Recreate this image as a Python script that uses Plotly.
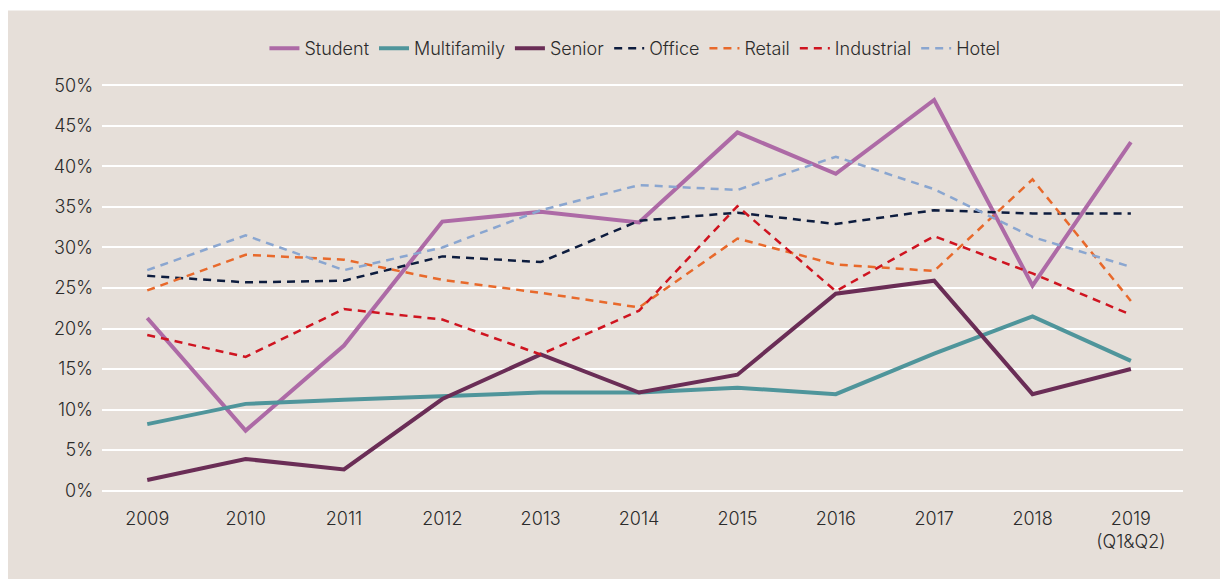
import plotly.graph_objects as go

years = ["2009", "2010", "2011", "2012", "2013", "2014", "2015", "2016", "2017", "2018", "2019<br>(Q1&Q2)"]

student = [21.3, 7.4, 17.9, 33.2, 34.4, 33.1, 44.2, 39.1, 48.2, 25.3, 43.0]
multifamily = [8.2, 10.7, 11.2, 11.6, 12.1, 12.1, 12.7, 11.9, 16.9, 21.5, 16.0]
senior = [1.3, 3.9, 2.6, 11.3, 16.8, 12.1, 14.3, 24.3, 25.9, 11.9, 15.0]
office = [26.5, 25.7, 25.9, 28.9, 28.2, 33.3, 34.3, 32.9, 34.6, 34.2, 34.2]
retail = [24.7, 29.1, 28.5, 26.0, 24.4, 22.6, 31.1, 27.9, 27.1, 38.4, 23.4]
industrial = [19.2, 16.5, 22.4, 21.1, 16.8, 22.2, 35.1, 24.6, 31.4, 26.8, 21.7]
hotel = [27.2, 31.5, 27.2, 30.0, 34.6, 37.7, 37.1, 41.2, 37.2, 31.3, 27.6]

tick_vals = [0, 5, 10, 15, 20, 25, 30, 35, 40, 45, 50]
tick_text = [f"{v}%" for v in tick_vals]

series = [
    ("Student", student, "#ad6aa6", "solid", 4),
    ("Multifamily", multifamily, "#4f959b", "solid", 4),
    ("Senior", senior, "#6a2d56", "solid", 4),
    ("Office", office, "#0d1c3e", "8px,6px", 2.5),
    ("Retail", retail, "#e8692b", "8px,6px", 2.5),
    ("Industrial", industrial, "#cf1420", "8px,6px", 2.5),
    ("Hotel", hotel, "#8aa6d0", "8px,6px", 2.5),
]

fig = go.Figure()
for name, vals, color, dash, w in series:
    fig.add_trace(go.Scatter(
        x=years, y=vals, name=name, mode="lines",
        line=dict(color=color, width=w, dash=dash),
    ))

bg = "#e6dfd9"
fig.add_shape(type="rect", xref="paper", yref="paper",
              x0=-0.087, x1=1.06, y0=-0.3, y1=1.177,
              fillcolor=bg, line=dict(width=0), layer="below")

font_family = "Inter, Lato, sans-serif"
label_font = dict(family=font_family, size=18, color="#2b2b2b", weight=300)
fig.update_layout(
    width=1228, height=579,
    margin=dict(l=94, r=53, t=75, b=94),
    paper_bgcolor="white",
    plot_bgcolor="rgba(0,0,0,0)",
    font=dict(family=font_family, size=18, color="#2b2b2b"),
    showlegend=True,
    legend=dict(orientation="h", x=0.493, xanchor="center", y=1.084, yanchor="middle",
                bgcolor="rgba(0,0,0,0)", font=dict(family=font_family, size=18, color="#2b2b2b", weight=300),
                itemwidth=30, tracegroupgap=0),
    xaxis=dict(type="category", range=[-0.46, 10.53], showgrid=False, zeroline=False,
               showline=False, ticks="", tickfont=label_font,
               ticklabelstandoff=13),
    yaxis=dict(range=[-0.3, 50.3], tickvals=tick_vals, ticktext=tick_text,
               showgrid=True, gridcolor="white", gridwidth=2, zeroline=False,
               showline=False, ticks="", tickfont=label_font,
               ticklabelstandoff=8),
)

fig.write_html("out.html")
